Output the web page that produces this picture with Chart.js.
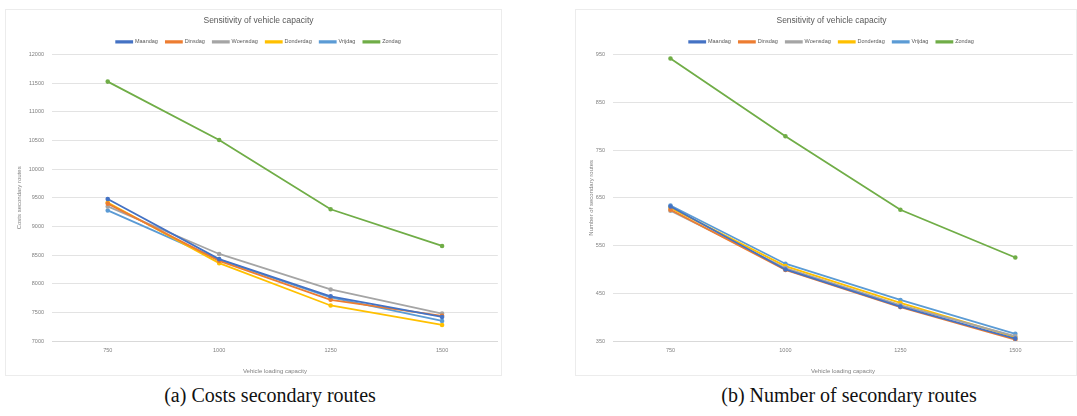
<!DOCTYPE html>
<html>
<head>
<meta charset="utf-8">
<script src="https://cdn.jsdelivr.net/npm/chart.js@4.4.1/dist/chart.umd.min.js"></script>
<style>
  html, body { margin: 0; padding: 0; background: #fff; }
  body { width: 1077px; height: 416px; position: relative; overflow: hidden; }
  .box { position: absolute; border: 1px solid #ececec; box-sizing: border-box; background: #fff; }
  .cap { position: absolute; font-family: "Liberation Serif", "DejaVu Serif", serif; font-size: 20px; color: #111; white-space: nowrap; transform: translateX(-50%); }
</style>
</head>
<body>
<div class="box" id="b1" style="left:5px; top:9px; width:497px; height:367px;"><canvas id="c1"></canvas></div>
<div class="box" id="b2" style="left:575px; top:9px; width:502px; height:367px;"><canvas id="c2"></canvas></div>
<div class="cap" style="left:270px; top:384px;">(a) Costs secondary routes</div>
<div class="cap" style="left:849px; top:384px;">(b) Number of secondary routes</div>
<script>
const capacities = ['750', '1000', '1250', '1500'];
const dayNames = ['Maandag', 'Dinsdag', 'Woensdag', 'Donderdag', 'Vrijdag', 'Zondag'];

const maandagCost   = [9480, 8430, 7780, 7420];
const dinsdagCost   = [9400, 8400, 7720, 7440];
const woensdagCost  = [9350, 8520, 7900, 7480];
const donderdagCost = [9420, 8360, 7620, 7280];
const vrijdagCost   = [9280, 8420, 7760, 7350];
const zondagCost    = [11530, 10510, 9300, 8660];

const maandagRoutes   = [632, 500, 422, 355];
const dinsdagRoutes   = [625, 499, 421, 353];
const woensdagRoutes  = [623, 503, 425, 360];
const donderdagRoutes = [629, 507, 430, 358];
const vrijdagRoutes   = [634, 512, 436, 365];
const zondagRoutes    = [942, 779, 625, 525];

const costTicks = { min: 7000, max: 12000, step: 500 };
const routeTicks = { min: 350, max: 950, step: 100 };

const colors = ['#4472C4', '#ED7D31', '#A5A5A5', '#FFC000', '#5B9BD5', '#70AD47'];
const FONT = '"Liberation Sans", "Open Sans", sans-serif';

function makeDatasets(arrs) {
  return arrs.map((d, i) => ({
    label: dayNames[i],
    data: d,
    borderColor: colors[i],
    backgroundColor: colors[i],
    borderWidth: 1.8,
    pointRadius: 1.4,
    pointHoverRadius: 1.4,
    pointStyle: 'circle',
    tension: 0
  }));
}

function makeChart(id, arrs, ticks, yTitle, padLeft, yWidth, padRight) {
  return new Chart(document.getElementById(id), {
    type: 'line',
    data: { labels: capacities, datasets: makeDatasets(arrs) },
    options: {
      responsive: true,
      maintainAspectRatio: false,
      animation: false,
      events: [],
      layout: { padding: { left: padLeft, right: padRight, top: 0, bottom: 0 } },
      plugins: {
        title: {
          display: true,
          text: 'Sensitivity of vehicle capacity',
          color: '#595959',
          font: { family: FONT, size: 8.5, weight: 'normal' },
          padding: { top: 6, bottom: 5 }
        },
        legend: {
          display: true,
          position: 'top',
          labels: {
            color: '#595959',
            font: { family: FONT, size: 5.5 },
            boxWidth: 16,
            boxHeight: 1.5,
            padding: 8
          }
        },
        tooltip: { enabled: false }
      },
      scales: {
        x: {
          type: 'category',
          offset: true,
          grid: { display: false, drawTicks: false },
          border: { color: '#d9d9d9' },
          ticks: { color: '#7f7f7f', font: { family: FONT, size: 5.5 }, padding: 6, maxRotation: 0 },
          title: { display: true, text: 'Vehicle loading capacity', color: '#7f7f7f', font: { family: FONT, size: 6 }, padding: { top: 2, bottom: 0 } },
          afterFit: s => { s.height = 34; }
        },
        y: {
          min: ticks.min,
          max: ticks.max,
          grid: { color: '#e3e3e3', drawTicks: false },
          border: { display: false },
          ticks: { stepSize: ticks.step, color: '#7f7f7f', font: { family: FONT, size: 5.5 }, padding: 8,
                   callback: v => String(v) },
          title: { display: true, text: yTitle, color: '#7f7f7f', font: { family: FONT, size: 6 }, padding: { top: 0, bottom: 2 } },
          afterFit: s => { s.width = yWidth; }
        }
      }
    }
  });
}

makeChart('c1', [maandagCost, dinsdagCost, woensdagCost, donderdagCost, vrijdagCost, zondagCost], costTicks, 'Costs secondary routes', 10, 36, 0);
makeChart('c2', [maandagRoutes, dinsdagRoutes, woensdagRoutes, donderdagRoutes, vrijdagRoutes, zondagRoutes], routeTicks, 'Number of secondary routes', 12, 25, 1);
</script>
</body>
</html>
